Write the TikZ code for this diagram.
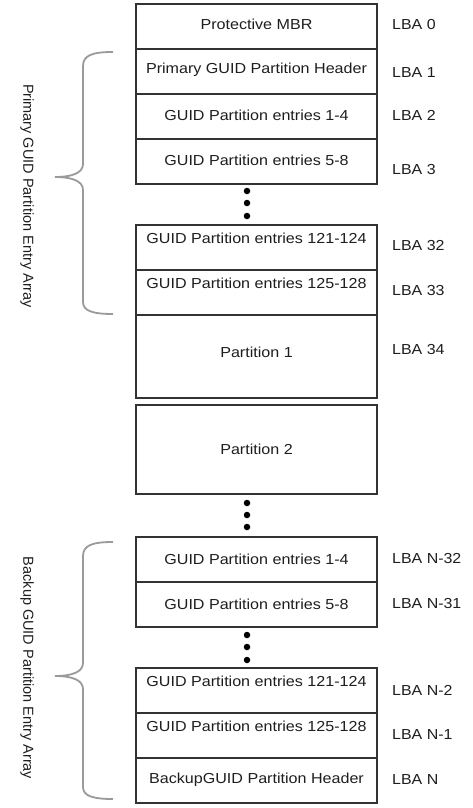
\documentclass[tikz,border=0pt]{standalone}
\usepackage{fontspec}
\setmainfont{Liberation Sans}
\definecolor{linec}{HTML}{333333}
\definecolor{txtc}{HTML}{1E1E1E}
\definecolor{bracec}{HTML}{9A9A9A}
\newcommand{\fsz}{\fontsize{14.5}{17}\selectfont}
\tikzset{
  blk/.style={draw=linec, line width=1.3pt, minimum width=241pt, inner sep=0pt, outer sep=0pt, anchor=north west, fill=white},
  lbl/.style={font=\fsz, text=txtc, anchor=west, inner sep=0pt, xscale=1.1},
  txt/.style={font=\fsz, text=txtc, inner sep=0pt, xscale=1.11},
  vtxt/.style={font=\fsz, text=txtc, inner sep=0pt, rotate=-90},
  bdot/.style={circle, fill=black, inner sep=0pt, minimum size=6.5pt},
  brc/.style={draw=bracec, line width=1.8pt}
}
\begin{document}
\begin{tikzpicture}[x=1pt,y=-1pt]
\useasboundingbox (0,0) rectangle (472,808);
% primary boxes
\node[blk, minimum height=45pt] (b0) at (136,4) {};
\node[blk, minimum height=45pt] (b1) at (136,49) {};
\node[blk, minimum height=45pt] (b2) at (136,94) {};
\node[blk, minimum height=45pt] (b3) at (136,139) {};
\node[blk, minimum height=45pt] (b32) at (136,225) {};
\node[blk, minimum height=45pt] (b33) at (136,270) {};
\node[blk, minimum height=83pt] (p1) at (136,315) {};
\node[blk, minimum height=89pt] (p2) at (136,405) {};
% backup boxes
\node[blk, minimum height=45pt] (c32) at (136,537) {};
\node[blk, minimum height=45pt] (c31) at (136,582) {};
\node[blk, minimum height=45pt] (c2) at (136,668) {};
\node[blk, minimum height=45pt] (c1) at (136,713) {};
\node[blk, minimum height=45pt] (c0) at (136,758) {};
% box texts
\node[txt] (t0) at (256.5,24) {Protective MBR};
\node[txt] (t1) at (256.5,70) {Primary GUID Partition Header};
\node[txt] (t2) at (256.5,115) {GUID Partition entries 1-4};
\node[txt] (t3) at (256.5,160) {GUID Partition entries 5-8};
\node[txt] (t32) at (256.5,238) {GUID Partition entries 121-124};
\node[txt] (t33) at (256.5,283) {GUID Partition entries 125-128};
\node[txt] (tp1) at (256.5,352) {Partition 1};
\node[txt] (tp2) at (256.5,449) {Partition 2};
\node[txt] (u32) at (256.5,559) {GUID Partition entries 1-4};
\node[txt] (u31) at (256.5,604) {GUID Partition entries 5-8};
\node[txt] (u2) at (256.5,681) {GUID Partition entries 121-124};
\node[txt] (u1) at (256.5,726) {GUID Partition entries 125-128};
\node[txt] (u0) at (256.5,780) {BackupGUID Partition Header};
% LBA labels
\node[lbl] (l0) at (392,25) {LBA 0};
\node[lbl] (l1) at (392,73) {LBA 1};
\node[lbl] (l2) at (392,115) {LBA 2};
\node[lbl] (l3) at (392,170) {LBA 3};
\node[lbl] (l32) at (392,246) {LBA 32};
\node[lbl] (l33) at (392,291) {LBA 33};
\node[lbl] (l34) at (392,350) {LBA 34};
\node[lbl] (m32) at (392,559) {LBA N-32};
\node[lbl] (m31) at (392,604) {LBA N-31};
\node[lbl] (m2) at (392,690) {LBA N-2};
\node[lbl] (m1) at (392,735) {LBA N-1};
\node[lbl] (m0) at (392,780) {LBA N};
% dots
\node[bdot] (d1) at (247,191) {};
\node[bdot] (d2) at (247,203) {};
\node[bdot] (d3) at (247,216) {};
\node[bdot] (e1) at (247,503) {};
\node[bdot] (e2) at (247,515) {};
\node[bdot] (e3) at (247,527) {};
\node[bdot] (f1) at (247,635) {};
\node[bdot] (f2) at (247,647) {};
\node[bdot] (f3) at (247,660) {};
% braces
\draw[brc] (113,52) .. controls (93,52) and (83,55) .. (83,66) -- (83,164)
  .. controls (83,173) and (72,177) .. (55,177)
  .. controls (72,177) and (83,181) .. (83,190) -- (83,302)
  .. controls (83,311) and (93,314) .. (113,314);
\draw[brc] (113,542) .. controls (93,542) and (83,545) .. (83,556) -- (83,663)
  .. controls (83,672) and (72,676) .. (55,676)
  .. controls (72,676) and (83,680) .. (83,689) -- (83,787)
  .. controls (83,796) and (93,799) .. (113,799);
% vertical labels
\node[vtxt] (v1) at (27,196) {Primary GUID Partition Entry Array};
\node[vtxt] (v2) at (27,668) {Backup GUID Partition Entry Array};
\end{tikzpicture}
\end{document}
